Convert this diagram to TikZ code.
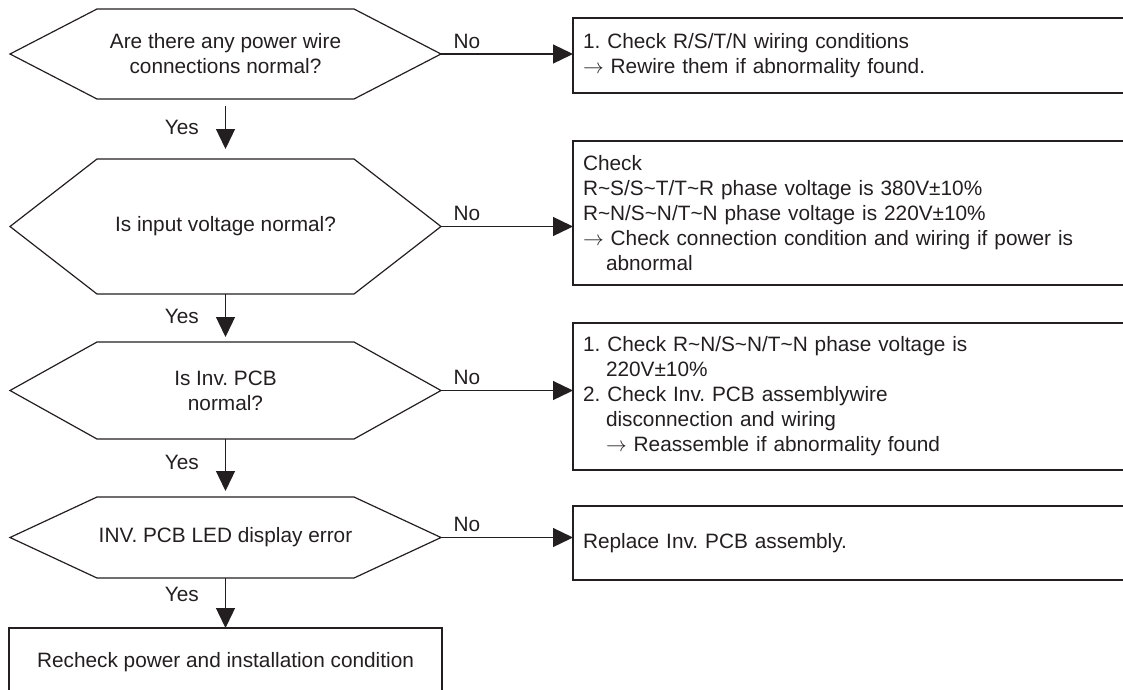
\documentclass[tikz,border=0pt]{standalone}
\usepackage{fontspec}
\setmainfont{Liberation Sans}
\usetikzlibrary{arrows.meta}
\definecolor{ink}{HTML}{231F20}
\frenchspacing
\newcommand{\thinarrow}{$\rightarrow$}
\begin{document}
\begin{tikzpicture}[x=1pt,y=-1pt,
  every node/.style={text=ink, font=\fontsize{20.8pt}{25pt}\selectfont},
  hexnode/.style={rectangle, draw=none, outer sep=0pt, inner sep=0pt,
    minimum width=431pt, minimum height=#1, align=center},
  hexline/.style={draw=ink, line width=1.2pt, line join=miter},
  stepbox/.style={rectangle, draw=ink, line width=1.6pt, outer sep=0pt,
    inner xsep=10pt, inner ysep=0pt, text width=#1, align=left},
  flow/.style={draw=ink, line width=1.3pt,
    -{Triangle[length=20pt,width=19pt]}},
  yeslabel/.style={anchor=east, inner sep=0pt, xshift=-26pt},
  nolabel/.style={pos=0, anchor=base west, inner sep=0pt, xshift=12pt, yshift=6pt}]

\useasboundingbox (0,0) rectangle (1123,689);
\clip (0,0) rectangle (1123,689);

% decision hexagons (text holders; outlines drawn from their anchors)
\node[hexnode=90pt]  (q1) at (225.5,54)    {Are there any power wire\\connections normal?};
\node[hexnode=135pt] (q2) at (225.5,226.5) {Is input voltage normal?};
\node[hexnode=97pt]  (q3) at (225.5,390.5) {Is Inv. PCB\\normal?};
\node[hexnode=81pt]  (q4) at (225.5,537.5) {INV. PCB LED display error};

\foreach \n in {q1,q2,q3,q4}
  \draw[hexline] (\n.west) -- ([xshift=87pt]\n.north west) -- ([xshift=-87pt]\n.north east)
    -- (\n.east) -- ([xshift=-87pt]\n.south east) -- ([xshift=87pt]\n.south west) -- cycle;

% action boxes on the right (they run past the right margin)
\node[stepbox=547pt, minimum height=75pt] (b1) at (856.5,55.5)
  {1. Check R/S/T/N wiring conditions\\
   \thinarrow\ Rewire them if abnormality found.};
\node[stepbox=547pt, minimum height=144pt] (b2) at (856.5,213)
  {Check\\
   R\textasciitilde S/S\textasciitilde T/T\textasciitilde R phase voltage is 380V±10\%\\
   R\textasciitilde N/S\textasciitilde N/T\textasciitilde N phase voltage is 220V±10\%\\
   \thinarrow\ Check connection condition and wiring if power is\\
   \hspace*{23pt}abnormal};
\node[stepbox=547pt, minimum height=147pt] (b3) at (856.5,396.5)
  {1. Check R\textasciitilde N/S\textasciitilde N/T\textasciitilde N phase voltage is\\
   \hspace*{23pt}220V±10\%\\
   2. Check Inv. PCB assemblywire\\
   \hspace*{23pt}disconnection and wiring\\
   \hspace*{23pt}\thinarrow\ Reassemble if abnormality found};
\node[stepbox=547pt, minimum height=74pt] (b4) at (856.5,543)
  {Replace Inv. PCB assembly.};

% final box at the bottom (runs past the lower margin)
\node[rectangle, draw=ink, line width=1.6pt, outer sep=0pt, inner sep=0pt,
  minimum width=433pt, minimum height=68pt] (fin) at (225.5,662)
  {Recheck power and installation condition};

% "No" branches
\draw[flow] (q1.east) -- node[nolabel] {No} (q1.east -| b1.west);
\draw[flow] (q2.east) -- node[nolabel] {No} (q2.east -| b2.west);
\draw[flow] (q3.east) -- node[nolabel] {No} (q3.east -| b3.west);
\draw[flow] (q4.east) -- node[nolabel] {No} (q4.east -| b4.west);

% "Yes" branches
\draw[flow, shorten <=7pt, shorten >=10pt] (q1.south) -- node[yeslabel, pos=0.47] {Yes} (q2.north);
\draw[flow, shorten >=5pt] (q2.south) -- node[yeslabel, pos=0.46] {Yes} (q3.north);
\draw[flow, shorten >=6pt] (q3.south) -- node[yeslabel, pos=0.41] {Yes} (q4.north);
\draw[flow] (q4.south) -- node[yeslabel, pos=0.32] {Yes} (fin.north);
\end{tikzpicture}
\end{document}
